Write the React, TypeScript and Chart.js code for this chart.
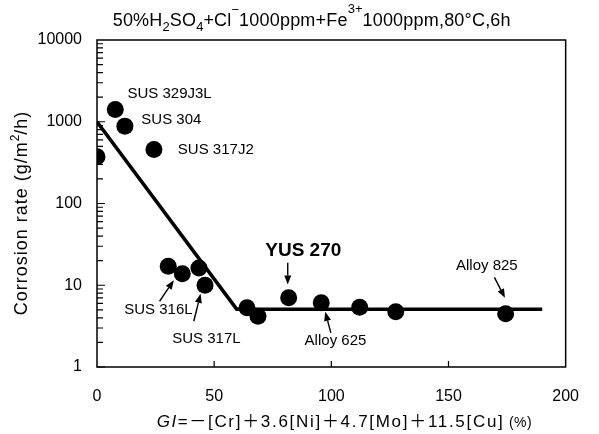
import React, { useEffect, useRef } from "react";
import { Chart, registerables } from "chart.js";
Chart.register(...registerables);

// ---- data ----
const gi = [0, 7.8, 11.9, 24.3, 30.4, 36.4, 43.5, 46.1, 64.0, 68.7, 81.8, 95.7, 112.1, 127.5, 174.4];
const rate = [373, 1414, 884, 458, 17.1, 13.8, 16.3, 10.0, 5.29, 4.17, 7.01, 6.09, 5.38, 4.75, 4.47];

const fitGI = [0, 59.6, 190];
const fitRate = [1000, 5.1, 5.1];

const xTicks = [0, 50, 100, 150, 200];
const yTicks = [1, 10, 100, 1000, 10000];

const labelTexts = ["SUS 329J3L", "SUS 304", "SUS 317J2", "YUS 270", "SUS 316L", "SUS 317L", "Alloy 625", "Alloy 825"];
const labelGI = [13.0, 18.9, 34.5, 71.8, 11.6, 32.1, 88.6, 153.2];
const labelRate = [2220, 1052, 458, 26.6, 4.97, 2.19, 2.1, 17.4];

const arrowTailGI = [26.7, 41.3, 81.4, 99.8, 169.6];
const arrowTailRate = [6.37, 3.63, 18.8, 2.61, 12.5];
const arrowHeadGI = [32.8, 44.2, 81.4, 97.4, 174.1];
const arrowHeadRate = [11.5, 7.85, 10.2, 4.73, 7.01];

const FONT = "'Liberation Sans', Arial, Helvetica, sans-serif";

type Seg = { t: string; size: number; dy: number; style?: string; ls?: number };

function setFont(ctx: any, s: Seg) {
  ctx.font = `${s.style || ""} ${s.size}px ${FONT}, 'Noto Sans CJK JP'`;
  ctx.letterSpacing = `${s.ls || 0}px`;
}

function drawSegs(ctx: CanvasRenderingContext2D, segs: Seg[], x: number, y: number, align: "left" | "center") {
  let total = 0;
  for (const s of segs) {
    setFont(ctx, s);
    total += ctx.measureText(s.t).width;
  }
  let cx = align === "center" ? x - total / 2 : x;
  ctx.textAlign = "left";
  ctx.textBaseline = "alphabetic";
  for (const s of segs) {
    setFont(ctx, s);
    ctx.fillText(s.t, cx, y + s.dy);
    cx += ctx.measureText(s.t).width;
  }
  (ctx as any).letterSpacing = "0px";
}

const decor = {
  id: "decor",
  afterDraw(chart: any) {
    const { ctx, chartArea: a, scales } = chart;
    const xs = scales.x;
    const ys = scales.y;
    ctx.save();
    ctx.fillStyle = "#000";
    ctx.strokeStyle = "#000";
    // frame
    ctx.lineWidth = 1.5;
    ctx.strokeRect(a.left, a.top, a.right - a.left, a.bottom - a.top);
    // y minor/major ticks (inside)
    ctx.lineWidth = 1.2;
    ctx.beginPath();
    for (let d = 0; d < yTicks.length - 1; d++) {
      for (let k = 1; k <= 9; k++) {
        const v = yTicks[d] * k;
        const py = ys.getPixelForValue(v);
        const len = k === 1 ? 8 : 6;
        ctx.moveTo(a.left, py);
        ctx.lineTo(a.left + len, py);
      }
    }
    // x ticks
    for (const v of xTicks) {
      if (v <= xs.min || v >= xs.max) continue;
      const px = xs.getPixelForValue(v);
      ctx.moveTo(px, a.bottom);
      ctx.lineTo(px, a.bottom - 6);
    }
    ctx.stroke();

    // point labels
    for (let i = 0; i < labelTexts.length; i++) {
      const bold = labelTexts[i] === "YUS 270";
      ctx.font = `${bold ? "bold 19px" : "15px"} ${FONT}`;
      ctx.textAlign = "left";
      ctx.textBaseline = "middle";
      ctx.fillText(labelTexts[i], xs.getPixelForValue(labelGI[i]), ys.getPixelForValue(labelRate[i]));
    }

    // arrows
    ctx.lineWidth = 1.4;
    for (let i = 0; i < arrowTailGI.length; i++) {
      const x0 = xs.getPixelForValue(arrowTailGI[i]);
      const y0 = ys.getPixelForValue(arrowTailRate[i]);
      const x1 = xs.getPixelForValue(arrowHeadGI[i]);
      const y1 = ys.getPixelForValue(arrowHeadRate[i]);
      const ang = Math.atan2(y1 - y0, x1 - x0);
      const hl = 9, hw = 3.5;
      const bx = x1 - hl * Math.cos(ang);
      const by = y1 - hl * Math.sin(ang);
      ctx.beginPath();
      ctx.moveTo(x0, y0);
      ctx.lineTo(bx, by);
      ctx.stroke();
      ctx.beginPath();
      ctx.moveTo(x1, y1);
      ctx.lineTo(bx + hw * Math.sin(ang), by - hw * Math.cos(ang));
      ctx.lineTo(bx - hw * Math.sin(ang), by + hw * Math.cos(ang));
      ctx.closePath();
      ctx.fill();
    }

    // top title
    drawSegs(ctx, [
      { t: "50%H", size: 18, dy: 0, ls: 0.2 },
      { t: "2", size: 13, dy: 5 },
      { t: "SO", size: 18, dy: 0, ls: 0.2 },
      { t: "4", size: 13, dy: 5 },
      { t: "+Cl", size: 18, dy: 0, ls: 0.2 },
      { t: "\u2212", size: 13, dy: -12 },
      { t: "1000ppm+Fe", size: 18, dy: 0, ls: 0.2 },
      { t: "3+", size: 13, dy: -13 },
      { t: "1000ppm,80\u00B0C,6h", size: 18, dy: 0, ls: 0.2 },
    ], 112.7, 26, "left");

    // x-axis title
    drawSegs(ctx, [
      { t: "GI", size: 17, dy: 0, style: "italic", ls: 1.5 },
      { t: "=\uFF0D[Cr]\uFF0B3.6[Ni]\uFF0B4.7[Mo]\uFF0B11.5[Cu]", size: 17, dy: 0, ls: 1.7 },
      { t: " (%)", size: 14, dy: 0, ls: 0.5 },
    ], 156.7, 427, "left");

    // y-axis title
    ctx.save();
    ctx.translate(27, 213);
    ctx.rotate(-Math.PI / 2);
    drawSegs(ctx, [
      { t: "Corrosion rate (g/m", size: 18, dy: 0, ls: 1.0 },
      { t: "2", size: 12, dy: -8 },
      { t: "/h)", size: 18, dy: 0, ls: 1.0 },
    ], 0, 0, "center");
    ctx.restore();

    ctx.restore();
  },
};

export default function App() {
  const ref = useRef<HTMLCanvasElement | null>(null);
  useEffect(() => {
    if (!ref.current) return;
    const chart = new Chart(ref.current, {
      type: "scatter",
      data: {
        datasets: [
          {
            type: "line",
            data: fitGI.map((g, i) => ({ x: g, y: fitRate[i] })),
            borderColor: "#000",
            borderWidth: 3.5,
            pointRadius: 0,
            fill: false,
            tension: 0,
          } as any,
          {
            type: "scatter",
            data: gi.map((g, i) => ({ x: g, y: rate[i] })),
            pointRadius: 8.5,
            pointHoverRadius: 8.5,
            backgroundColor: "#000",
            borderWidth: 0,
          } as any,
        ],
      },
      options: {
        animation: false,
        responsive: false,
        devicePixelRatio: 1,
        events: [],
        layout: { padding: { top: 40, right: 15, left: 0, bottom: 0 } },
        plugins: {
          legend: { display: false },
          tooltip: { enabled: false },
          title: { display: false },
        },
        scales: {
          x: {
            type: "linear",
            min: 0,
            max: 200,
            afterBuildTicks: (s: any) => {
              s.ticks = xTicks.map((v) => ({ value: v }));
            },
            afterFit: (s: any) => {
              s.height = 67;
            },
            grid: { display: false, drawTicks: false },
            border: { display: false },
            ticks: {
              color: "#000",
              font: { family: FONT, size: 16 },
              padding: 20,
              maxRotation: 0,
              autoSkip: false,
              callback: (v: any) => String(v),
            },
          },
          y: {
            type: "logarithmic",
            min: 1,
            max: 10000,
            afterBuildTicks: (s: any) => {
              s.ticks = yTicks.map((v) => ({ value: v, major: true }));
            },
            afterFit: (s: any) => {
              s.width = 97;
            },
            grid: { display: false, drawTicks: false },
            border: { display: false },
            ticks: {
              color: "#000",
              font: { family: FONT, size: 16 },
              padding: 15,
              autoSkip: false,
              callback: (v: any) => String(v),
            },
          },
        },
      } as any,
      plugins: [decor],
    });
    return () => chart.destroy();
  }, []);
  return (
    <div style={{ position: "absolute", left: 0, top: 0, width: 599, height: 434, background: "#fff" }}>
      <canvas ref={ref} width={599} height={434} style={{ display: "block", width: 599, height: 434 }} />
    </div>
  );
}
